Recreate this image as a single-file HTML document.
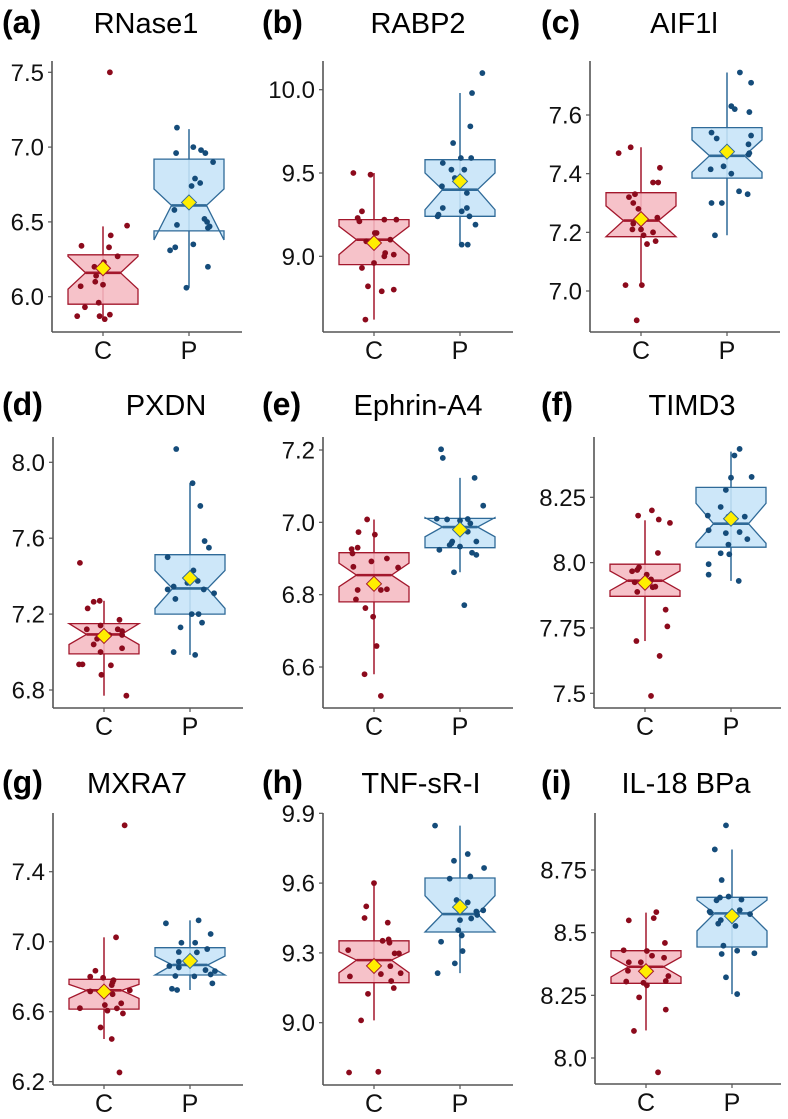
<!DOCTYPE html>
<html><head><meta charset="utf-8"><style>
html,body{margin:0;padding:0;background:#fff;}
svg{display:block;font-family:"Liberation Sans",Arial,sans-serif;}
</style></head><body>
<svg id="fig" width="788" height="1119" viewBox="0 0 788 1119" xmlns="http://www.w3.org/2000/svg"></svg>
<script>
// ---- data (values; jitter in category units) ----
const categories = ["C","P"];
const titles = ["RNase1","RABP2","AIF1l","PXDN","Ephrin-A4","TIMD3","MXRA7","TNF-sR-I","IL-18 BPa"];
const letters = ["(a)","(b)","(c)","(d)","(e)","(f)","(g)","(h)","(i)"];
const yTicks_a = [6.0,6.5,7.0,7.5];
const yTicks_b = [9.0,9.5,10.0];
const yTicks_c = [7.0,7.2,7.4,7.6];
const yTicks_d = [6.8,7.2,7.6,8.0];
const yTicks_e = [6.6,6.8,7.0,7.2];
const yTicks_f = [7.5,7.75,8.0,8.25];
const yTicks_g = [6.2,6.6,7.0,7.4];
const yTicks_h = [9.0,9.3,9.6,9.9];
const yTicks_i = [8.0,8.25,8.5,8.75];
const tickLabels_a = ["6.0","6.5","7.0","7.5"];
const tickLabels_b = ["9.0","9.5","10.0"];
const tickLabels_c = ["7.0","7.2","7.4","7.6"];
const tickLabels_d = ["6.8","7.2","7.6","8.0"];
const tickLabels_e = ["6.6","6.8","7.0","7.2"];
const tickLabels_f = ["7.5","7.75","8.0","8.25"];
const tickLabels_g = ["6.2","6.6","7.0","7.4"];
const tickLabels_h = ["9.0","9.3","9.6","9.9"];
const tickLabels_i = ["8.0","8.25","8.5","8.75"];
// box stats: [whiskerLo, q1, notchLo, median, notchHi, q3, whiskerHi, mean]
const boxC_a=[5.85,5.95,6.05,6.16,6.27,6.28,6.47,6.19];
const boxP_a=[6.06,6.44,6.38,6.61,6.72,6.92,7.12,6.63];
const boxC_b=[8.62,8.95,9.01,9.10,9.18,9.22,9.50,9.08];
const boxP_b=[9.07,9.24,9.28,9.40,9.50,9.58,9.98,9.45];
const boxC_c=[7.02,7.185,7.185,7.24,7.29,7.335,7.49,7.245];
const boxP_c=[7.19,7.385,7.405,7.461,7.515,7.557,7.745,7.475];
const boxC_d=[6.77,6.99,7.04,7.093,7.15,7.15,7.27,7.085];
const boxP_d=[6.985,7.20,7.23,7.335,7.43,7.513,7.89,7.39];
const boxC_e=[6.58,6.78,6.822,6.854,6.887,6.916,7.008,6.83];
const boxP_e=[6.862,6.93,6.96,6.987,7.013,7.011,7.123,6.98];
const boxC_f=[7.70,7.871,7.893,7.931,7.968,7.994,8.162,7.923];
const boxP_f=[7.93,8.059,8.074,8.149,8.227,8.288,8.425,8.168];
const boxC_g=[6.444,6.615,6.676,6.722,6.756,6.785,7.025,6.715];
const boxP_g=[6.724,6.81,6.81,6.867,6.918,6.966,7.122,6.89];
const boxC_h=[9.01,9.172,9.215,9.269,9.305,9.352,9.60,9.244];
const boxP_h=[9.213,9.39,9.39,9.467,9.546,9.622,9.847,9.497];
const boxC_i=[8.11,8.298,8.323,8.364,8.403,8.428,8.58,8.346];
const boxP_i=[8.255,8.443,8.507,8.577,8.63,8.641,8.832,8.566];
// points
const valsC_a=[7.50,6.475,6.41,6.34,6.33,6.27,6.23,6.20,6.19,6.14,6.10,6.08,6.07,5.96,5.93,5.87,5.87,5.88,5.85];
const jitC_a=[.08,.28,.09,-.25,.07,.17,.01,-.10,0,-.08,-.09,0,-.26,-.05,-.21,-.30,-.04,.08,.02];
const valsP_a=[7.13,7.00,6.96,6.98,6.96,6.90,6.79,6.74,6.76,6.58,6.48,6.52,6.50,6.47,6.46,6.35,6.33,6.31,6.20,6.06];
const jitP_a=[-.14,.05,-.15,.14,.19,.28,.07,.03,.13,-.17,-.14,.18,.21,.24,.22,.05,-.16,-.22,.22,-.03];
const valsC_b=[9.50,9.49,9.27,9.23,9.21,9.22,9.22,9.14,9.14,9.10,9.09,9.02,9.00,9.01,8.96,8.93,8.82,8.79,8.80,8.62];
const jitC_b=[-.24,-.04,-.14,-.19,-.17,.12,.26,.01,.03,.19,-.09,.13,.12,.23,0,-.14,-.07,.09,.23,-.10];
const valsP_b=[10.10,9.98,9.78,9.68,9.59,9.59,9.56,9.52,9.52,9.47,9.42,9.38,9.29,9.29,9.27,9.24,9.24,9.25,9.19,9.07,9.07];
const jitP_b=[.26,.14,.12,-.08,.01,.13,-.20,-.10,.05,-.06,-.21,.08,-.20,.08,.02,.11,-.26,-.25,.18,.02,.09];
const valsC_c=[7.47,7.49,7.42,7.37,7.37,7.32,7.33,7.30,7.28,7.25,7.23,7.21,7.21,7.19,7.20,7.16,7.17,7.02,7.02,6.90];
const jitC_c=[-.26,-.12,.22,.20,.14,-.14,-.07,-.09,-.03,.19,-.09,-.10,0,.03,.14,.07,.17,-.18,.01,-.05];
const valsP_c=[7.745,7.71,7.63,7.62,7.61,7.54,7.52,7.53,7.50,7.475,7.47,7.465,7.415,7.425,7.40,7.34,7.33,7.30,7.30,7.19];
const jitP_c=[.15,.28,.05,.09,.26,-.18,-.12,.28,.25,.03,.26,.25,-.19,-.04,.05,.14,.24,-.18,-.06,-.14];
const valsC_d=[7.47,7.265,7.27,7.23,7.12,7.14,7.17,7.12,7.11,7.07,7.04,7.09,7.09,7.02,7.00,6.935,6.935,6.93,6.88,6.77];
const jitC_d=[-.28,-.12,-.05,-.19,-.20,-.04,.18,.16,.21,-.08,-.12,.06,.21,.21,-.04,-.29,-.25,.08,-.03,.26];
const valsP_d=[8.07,7.89,7.77,7.585,7.55,7.50,7.43,7.365,7.375,7.345,7.33,7.33,7.31,7.28,7.20,7.20,7.155,7.13,7.00,6.985];
const jitP_d=[-.16,.03,.12,.17,.22,-.26,.04,-.03,.09,-.19,-.26,.16,.28,-.17,.02,.10,.14,-.11,-.19,.06];
const valsC_e=[7.008,6.973,6.966,6.93,6.926,6.914,6.892,6.90,6.877,6.875,6.833,6.813,6.813,6.815,6.787,6.763,6.739,6.658,6.58,6.52];
const jitC_e=[-.08,-.18,.01,-.19,-.26,-.25,-.03,.15,-.24,.28,-.02,.08,-.19,.15,-.21,-.10,-.01,.03,-.11,.08];
const valsP_e=[7.202,7.178,7.123,7.046,7.01,7.008,7.005,7.009,6.997,6.974,6.947,6.947,6.942,6.937,6.933,6.924,6.916,6.91,6.862,6.771];
const jitP_e=[-.22,-.20,.17,.27,-.27,-.15,0,.09,.12,.09,-.09,.19,-.10,-.12,0,-.24,.14,.19,-.07,.05];
const valsC_f=[8.20,8.18,8.165,8.152,8.037,7.982,7.972,7.967,7.954,7.925,7.924,7.936,7.906,7.908,7.888,7.82,7.756,7.70,7.643,7.49];
const jitC_f=[.08,-.08,.16,.29,.15,-.07,-.09,-.15,.02,-.12,-.02,.07,.09,.12,-.09,.24,.26,-.10,.17,.07];
const valsP_f=[8.435,8.41,8.325,8.328,8.278,8.213,8.18,8.176,8.176,8.124,8.113,8.117,8.09,8.069,8.036,8.032,7.994,7.954,7.93];
const jitP_f=[.10,.04,0,.24,-.06,-.12,-.27,.16,-.03,-.26,-.06,.10,.19,-.03,-.12,-.02,-.26,-.26,.09];
const valsC_g=[7.665,7.025,6.834,6.80,6.794,6.78,6.768,6.752,6.716,6.724,6.722,6.70,6.62,6.638,6.648,6.606,6.619,6.59,6.51,6.444,6.253];
const jitC_g=[.24,.14,-.10,-.16,-.01,.11,.10,.09,-.16,.03,.30,.10,-.28,.01,.20,.04,.15,.22,-.04,.09,.18];
const valsP_g=[7.105,7.122,6.994,6.994,7.044,6.941,6.939,6.958,6.861,6.886,6.876,6.853,6.838,6.832,6.813,6.804,6.802,6.762,6.731,6.724];
const jitP_g=[-.28,.10,-.10,.06,.24,-.13,.08,.20,-.24,-.13,-.03,-.13,.18,.29,.24,-.17,.05,.26,-.21,-.15];
const valsC_h=[9.60,9.50,9.45,9.43,9.358,9.352,9.344,9.312,9.298,9.298,9.243,9.209,9.199,9.213,9.179,9.149,9.124,9.01,8.786,8.789];
const jitC_h=[0,-.09,-.11,.16,.17,.10,.18,-.30,.24,.29,.19,.08,-.28,.31,.20,.23,-.07,-.15,-.29,.05];
const valsP_h=[9.847,9.725,9.696,9.665,9.619,9.628,9.527,9.517,9.478,9.483,9.463,9.448,9.441,9.398,9.375,9.348,9.308,9.255,9.213];
const jitP_h=[-.29,.09,-.07,.28,-.12,.12,-.04,.09,.19,.27,.20,.13,0,-.02,.02,-.22,.03,-.06,-.26];
const valsC_i=[8.582,8.549,8.558,8.459,8.43,8.427,8.408,8.40,8.382,8.382,8.348,8.327,8.305,8.30,8.307,8.29,8.242,8.193,8.108,7.943];
const jitC_i=[.12,-.20,.09,.22,-.26,.01,.07,.21,-.20,-.06,-.21,.26,-.23,-.03,.23,.01,-.08,.23,-.14,.14];
const valsP_i=[8.928,8.832,8.71,8.629,8.64,8.644,8.632,8.584,8.58,8.59,8.574,8.55,8.536,8.527,8.448,8.415,8.428,8.418,8.322,8.255];
const jitP_i=[-.07,-.20,-.12,-.18,-.14,-.04,.11,-.26,-.25,.09,.21,-.13,-.16,.04,-.10,-.12,.06,.26,-.07,.06];

const dataSets = [
 {ticks:yTicks_a,labels:tickLabels_a,boxC:boxC_a,boxP:boxP_a,vC:valsC_a,jC:jitC_a,vP:valsP_a,jP:jitP_a},
 {ticks:yTicks_b,labels:tickLabels_b,boxC:boxC_b,boxP:boxP_b,vC:valsC_b,jC:jitC_b,vP:valsP_b,jP:jitP_b},
 {ticks:yTicks_c,labels:tickLabels_c,boxC:boxC_c,boxP:boxP_c,vC:valsC_c,jC:jitC_c,vP:valsP_c,jP:jitP_c},
 {ticks:yTicks_d,labels:tickLabels_d,boxC:boxC_d,boxP:boxP_d,vC:valsC_d,jC:jitC_d,vP:valsP_d,jP:jitP_d},
 {ticks:yTicks_e,labels:tickLabels_e,boxC:boxC_e,boxP:boxP_e,vC:valsC_e,jC:jitC_e,vP:valsP_e,jP:jitP_e},
 {ticks:yTicks_f,labels:tickLabels_f,boxC:boxC_f,boxP:boxP_f,vC:valsC_f,jC:jitC_f,vP:valsP_f,jP:jitP_f},
 {ticks:yTicks_g,labels:tickLabels_g,boxC:boxC_g,boxP:boxP_g,vC:valsC_g,jC:jitC_g,vP:valsP_g,jP:jitP_g},
 {ticks:yTicks_h,labels:tickLabels_h,boxC:boxC_h,boxP:boxP_h,vC:valsC_h,jC:jitC_h,vP:valsP_h,jP:jitP_h},
 {ticks:yTicks_i,labels:tickLabels_i,boxC:boxC_i,boxP:boxP_i,vC:valsC_i,jC:jitC_i,vP:valsP_i,jP:jitP_i}
];

// ---- layout (pixel geometry, separate from data) ----
const layout = [
 {left:52, top:61, bottom:332, v0:7.5, p0:72.3, v1:6.0, p1:296.7, lx:2, tx:146, ty:33},
 {left:323, top:61, bottom:332, v0:10.0, p0:89.7, v1:9.0, p1:256.3, lx:262, tx:418, ty:33},
 {left:590, top:61, bottom:332, v0:7.6, p0:115, v1:7.0, p1:291, lx:541, tx:684, ty:33},
 {left:53, top:437, bottom:708, v0:8.0, p0:462.3, v1:6.8, p1:690, lx:2, tx:166, ty:415},
 {left:323, top:437, bottom:708, v0:7.2, p0:450, v1:6.6, p1:667, lx:262, tx:418, ty:415},
 {left:594, top:437, bottom:708, v0:8.25, p0:497.3, v1:7.5, p1:693.3, lx:541, tx:692, ty:415},
 {left:53, top:813, bottom:1085, v0:7.4, p0:871.7, v1:6.2, p1:1081.7, lx:2, tx:137, ty:793},
 {left:323, top:813, bottom:1085, v0:9.9, p0:813.3, v1:9.0, p1:1022.7, lx:262, tx:421, ty:793},
 {left:595, top:813, bottom:1084, v0:8.75, p0:870, v1:8.0, p1:1058, lx:541, tx:686, ty:793}
];
const styles = {
 C:{fill:"#f5b9c1",stroke:"#a3172c",pt:"#8c0a1c",dia:"#a3172c"},
 P:{fill:"#c6e4f8",stroke:"#2f6a98",pt:"#154c7a",dia:"#2f6a98"}
};

const NS="http://www.w3.org/2000/svg";
const svg=document.getElementById('fig');
function mk(tag,attrs,parent){const e=document.createElementNS(NS,tag);for(const k in attrs)e.setAttribute(k,attrs[k]);(parent||svg).appendChild(e);return e;}

dataSets.forEach((d,i)=>{
  const L=layout[i];
  const g=mk('g',{});
  
  
  const y=v=>L.p0+(v-L.v0)*(L.p1-L.p0)/(L.v1-L.v0);
  const x=(ci,j)=>L.left+51+ci*86+j*86;
  const right=Math.min(L.left+190,781);

  const lt=mk('text',{x:L.lx,y:L.ty,'font-size':32,'font-weight':'bold',fill:'#000'},g);
  lt.textContent=letters[i];
  
  
  const tt=mk('text',{x:L.tx,y:L.ty,'font-size':29,'text-anchor':'middle',fill:'#000'},g);
  tt.textContent=titles[i];
  
  

  const ya=mk('line',{x1:L.left,y1:L.top,x2:L.left,y2:L.bottom,stroke:'#555','stroke-width':1.6},g);
  
  
  const xa=mk('line',{x1:L.left,y1:L.bottom,x2:right,y2:L.bottom,stroke:'#555','stroke-width':1.6},g);
  
  

  d.ticks.forEach((t,k)=>{
    const yy=y(t);
    mk('line',{x1:L.left-4,y1:yy,x2:L.left,y2:yy,stroke:'#555','stroke-width':1.2},g);
    const tl=mk('text',{x:L.left-8,y:yy+8.5,'font-size':24,'text-anchor':'end',fill:'#111'},g);
    tl.textContent=d.labels[k];
    
    
  });
  categories.forEach((c,ci)=>{
    const cx=x(ci,0);
    mk('line',{x1:cx,y1:L.bottom,x2:cx,y2:L.bottom+4,stroke:'#555','stroke-width':1.2},g);
    const xl=mk('text',{x:cx,y:L.bottom+27,'font-size':25,'text-anchor':'middle',fill:'#111'},g);
    xl.textContent=c;
    
    
  });

  [['C',d.boxC,d.vC,d.jC],['P',d.boxP,d.vP,d.jP]].forEach(([c,b,vals,jit],ci)=>{
    const st=styles[c];
    const cx=x(ci,0), hw=35, nw=17.5;
    const wh=mk('line',{x1:cx,y1:y(b[0]),x2:cx,y2:y(b[6]),stroke:st.stroke,'stroke-width':1.5},g);
    
    
    const xl=cx-hw, xr=cx+hw;
    const pts=[[xl,y(b[5])],[xl,y(b[4])],[xl+nw,y(b[3])],[xl,y(b[2])],[xl,y(b[1])],
               [xr,y(b[1])],[xr,y(b[2])],[xr-nw,y(b[3])],[xr,y(b[4])],[xr,y(b[5])]];
    const bx=mk('polygon',{points:pts.map(p=>p[0].toFixed(1)+','+p[1].toFixed(1)).join(' '),fill:st.fill,'fill-opacity':0.88,stroke:st.stroke,'stroke-width':1.3},g);
    
    
    const md=mk('line',{x1:xl+nw,y1:y(b[3]),x2:xr-nw,y2:y(b[3]),stroke:st.stroke,'stroke-width':2.6},g);
    
    
    vals.forEach((v,k)=>{
      const p=mk('circle',{cx:x(ci,jit[k]),cy:y(v),r:2.9,fill:st.pt},g);
      
      
    });
    const my=y(b[7]), s=7.5;
    const dm=mk('polygon',{points:`${cx},${my-s} ${cx+s},${my} ${cx},${my+s} ${cx-s},${my}`,fill:'#ffee00',stroke:st.dia,'stroke-width':1},g);
    
    
  });
});
</script>
</body></html>
